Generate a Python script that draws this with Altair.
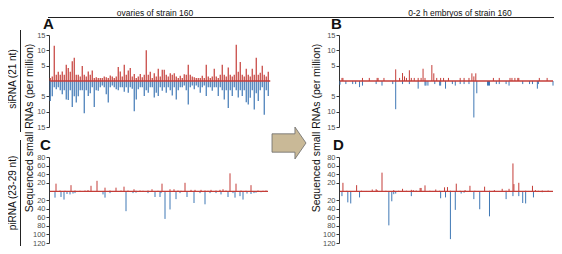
import altair as alt
import pandas as pd

RED = "#c43d38"
BLUE = "#3f78b5"
GREY = "#333333"

# ---------------- data ----------------
# Panel A: siRNA, ovaries (one value per bin, 110 bins)
A_red = [1, 1.5, 11.5, 2, 3, 2, 3.1, 2, 5.3, 4.2,
         3, 6.4, 7.6, 2, 2, 1.5, 4.9, 2, 1.5, 3.1,
         2, 3.4, 1, 1.2, 1, 1, 1, 1.5, 1.2, 1,
         1.8, 1.5, 1, 1.5, 4.6, 3.1, 1.5, 5.3, 2, 3.4,
         4.2, 1.5, 2.3, 1, 1.5, 2.3, 1.2, 2, 10, 2,
         3, 1, 2.5, 1.5, 4, 1.5, 3.7, 3.7, 2, 1.5,
         2.5, 2, 2.5, 1.5, 1, 1.7, 1, 2.2, 2, 5.3,
         2, 1.5, 1.2, 1, 1, 1, 1.7, 1, 5.3, 1.5,
         1, 1.5, 4, 1.5, 1, 2, 5.3, 2, 1.5, 4.4,
         2, 1.5, 2, 11.8, 3, 6.2, 2, 1.5, 4, 2,
         1.5, 4, 2, 7.6, 2, 2.7, 5, 2, 1.5, 3]
A_blue = [6.5, 5, 2, 2.7, 2, 3, 4.3, 3, 6, 6.2,
          3, 8.5, 5, 7, 5, 3, 3, 10.5, 3, 4.9,
          4, 2, 8.5, 3, 3.2, 2, 1.5, 2, 4.3, 7,
          2, 1.5, 2, 2.7, 3, 2, 2, 3.5, 2, 3.8,
          2, 2.5, 9.9, 6, 2.7, 2, 2, 4.9, 3, 3.8,
          2, 2, 5.4, 3.8, 4.9, 2, 3.2, 2, 3.8, 2,
          3, 4.7, 2, 6, 3, 2, 2, 1.5, 3, 7.7,
          2, 1.5, 2.7, 1.5, 2, 3.8, 2, 1.5, 4.9, 2,
          2, 3.2, 2, 2, 4.9, 2, 3, 6, 3, 8.8,
          3, 4.9, 2, 3, 5.4, 3, 4.9, 3, 6.9, 7.7,
          5.5, 3, 9.3, 4, 6.5, 3, 2, 11, 3, 4.9]

# Panel B: siRNA, 0-2 h embryos
B_red_pos = [2, 3, 23, 30, 38, 39, 45, 57, 61, 64, 66, 68, 71, 73, 76, 80, 83, 85, 87, 94,
             96, 99, 103, 106, 111, 123, 127, 132, 135, 137, 139, 157, 163, 174, 176, 179, 182, 183, 204, 212]
B_red_val = [1, 1, 1, 1, 1, 1, 1, 3.8, 1, 2.6, 1.5, 1, 3.5, 1, 1, 1, 1, 4, 1, 5.2,
             2.5, 1, 1, 1, 1, 1, 1, 1, 2.5, 1.5, 2.5, 1, 1, 1, 1, 1, 1, 1, 1, 1]
B_blue_pos = [0, 6, 13, 16, 20, 23, 37, 43, 54, 57, 64, 71, 80, 87, 88, 90, 97, 102, 103, 108,
              115, 118, 123, 127, 132, 137, 140, 151, 152, 153, 160, 163, 170, 173, 187, 194, 197, 202, 203, 218]
B_blue_val = [1.2, 1, 1, 1, 2, 1.5, 1, 1.5, 1, 9.2, 1, 1, 2.5, 1.5, 1.5, 1.5, 1, 1.5, 1.5, 2.5,
              1, 1.5, 1, 1, 1, 11.9, 4, 1.5, 1.5, 1.5, 1, 1, 1, 1.5, 1, 1, 1, 2.5, 1, 1.5]

# Panel C: piRNA, ovaries
C_red_pos = [6, 10, 15, 21, 25, 30, 35, 38, 41, 47, 55, 60, 66, 71, 74, 78, 84, 86, 90, 93,
             98, 102, 108, 112, 120, 124, 128, 131, 135, 141, 145, 151, 155, 158, 161, 166, 170, 173,
             176, 180, 186, 191, 196, 201, 208, 213, 216]
C_red_val = [18, 2, 1.5, 14.5, 2, 1.5, 2, 3, 13, 24.6, 8.7, 2, 8.7, 2, 11, 2, 5, 1.5, 2, 1.5,
             2, 5, 1.5, 18, 5, 5, 2, 1.5, 20, 3.6, 3.6, 3.6, 2, 1.5, 3.6, 2, 3.6, 5,
             2, 42, 18, 2, 1.5, 14.5, 2, 1.5, 2]
C_blue_pos = [5, 11, 14, 17, 20, 23, 25, 53, 55, 60, 76, 83, 86, 98, 105, 110, 111, 115, 120, 126,
              130, 137, 144, 150, 155, 160, 166, 171, 178, 183, 185, 190, 193, 197, 201, 204, 206, 211]
C_blue_val = [14.5, 13, 19, 6, 7, 5, 4, 7, 14.5, 4, 46, 4, 3, 4, 13, 13, 4, 64, 42, 18,
              4, 13, 27, 4, 30, 4, 4, 7, 13, 4, 14.5, 11, 19, 5, 6, 4, 3, 2]

# Panel D: piRNA, 0-2 h embryos
D_red_pos = [3, 7, 10, 17, 22, 27, 33, 37, 38, 43, 47, 50, 55, 60, 64, 68, 73, 75, 78, 82,
             83, 87, 92, 95, 98, 102, 107, 110, 113, 119, 123, 128, 133, 138, 142, 148, 153, 158,
             166, 170, 173, 177, 178, 183, 190, 193, 197, 200, 203, 207, 210, 213]
D_red_val = [20, 1.5, 1, 14.5, 1.5, 1, 4.4, 5, 3, 43.6, 1.5, 1, 3, 1.5, 6, 1.5, 3.6, 3, 2, 8,
             8, 14, 1.5, 1, 4.4, 1.5, 9.5, 10, 1.5, 18, 1.5, 3, 13, 1.5, 1, 11, 1.5, 3,
             6, 1.5, 6, 65, 17, 20, 1.5, 1, 13, 3, 1.5, 2, 1, 2]
D_blue_pos = [2, 8, 11, 20, 50, 53, 55, 57, 73, 103, 108, 113, 118, 124, 127, 137, 143, 153, 170, 177,
              183, 187, 190, 198, 207]
D_blue_val = [11, 25.5, 28, 14, 79, 23, 6.5, 5, 11, 16, 14, 111, 43, 5, 3, 18, 41.5, 58, 18, 11,
              11, 27, 28, 14, 2]

col_titles = ["ovaries of strain 160", "0-2 h embryos of strain 160"]
row_titles = ["siRNA (21 nt)", "piRNA (23-29 nt)"]
y_title = "Sequenced small RNAs (per million)"
letters = ["A", "B", "C", "D"]
si_ticks = [15, 10, 5, -5, -10, -15]
pi_ticks = [80, 60, 40, 20, -20, -40, -60, -80, -100, -120]

FONT = "Liberation Sans"


def panel(rpos, rval, bpos, bval, xdom, xrng, ydom, yrng, ticks, off, sw=1.0):
    xs = alt.Scale(domain=xdom, range=xrng)
    ys = alt.Scale(domain=ydom, range=yrng)
    ax = alt.Axis(orient="left", offset=off, values=ticks, labelExpr="abs(datum.value)",
                  grid=False, title=None, domainColor=GREY, tickColor=GREY, tickSize=3,
                  labelFontSize=7.5, labelColor="#505050", labelPadding=1, labelFont=FONT,
                  domainWidth=1, tickWidth=1, labelFlush=False, labelOverlap=False)
    red = pd.DataFrame({"pos": rpos, "val": rval, "zero": 0})
    blue = pd.DataFrame({"pos": bpos, "val": [-v for v in bval], "zero": 0})
    base = pd.DataFrame({"x0": [xdom[0]], "x1": [xdom[1]], "y": [0]})
    b = alt.Chart(blue).mark_rule(color=BLUE, strokeWidth=sw).encode(
        x=alt.X("pos:Q", scale=xs, axis=None),
        y=alt.Y("val:Q", scale=ys, axis=ax),
        y2="zero:Q")
    ln = alt.Chart(base).mark_rule(color=RED, strokeWidth=1.3).encode(
        x=alt.X("x0:Q", scale=xs, axis=None),
        x2="x1:Q",
        y=alt.Y("y:Q", scale=ys, axis=ax))
    r = alt.Chart(red).mark_rule(color=RED, strokeWidth=sw).encode(
        x=alt.X("pos:Q", scale=xs, axis=None),
        y=alt.Y("val:Q", scale=ys, axis=ax),
        y2="zero:Q")
    return alt.layer(b, ln, r)


pA = panel(list(range(len(A_red))), A_red, list(range(len(A_blue))), A_blue,
           [0, 110], [42.25, 262.25], [-15, 15], [119, 27], si_ticks, -41, sw=1.2)
pB = panel(B_red_pos, B_red_val, B_blue_pos, B_blue_val,
           [0, 218], [332, 545], [-15, 15], [119, 27], si_ticks, -331)
pC = panel(C_red_pos, C_red_val, C_blue_pos, C_blue_val,
           [0, 218], [42, 260], [-120, 80], [235, 149], pi_ticks, -41)
pD = panel(D_red_pos, D_red_val, D_blue_pos, D_blue_val,
           [0, 218], [332, 545], [-120, 80], [235, 149], pi_ticks, -331)

one = pd.DataFrame({"a": [0]})


def text(t, x, y, size, angle=0, weight="normal", align="center", baseline="alphabetic"):
    return alt.Chart(pd.DataFrame({"t": [t]})).mark_text(
        font=FONT, fontSize=size, angle=angle, fontWeight=weight, align=align,
        baseline=baseline, color="#111111").encode(
        x=alt.value(x), y=alt.value(y), text="t:N")


def rule(x, x2, y, y2):
    return alt.Chart(one).mark_rule(color="#222222", strokeWidth=1).encode(
        x=alt.value(x), x2=alt.value(x2), y=alt.value(y), y2=alt.value(y2))


deco = [
    text(col_titles[0], 147, 0.5, 8.5, baseline="top"),
    text(col_titles[1], 452, 0.5, 8.5, baseline="top"),
    rule(40, 548, 9.5, 9.5),
    text(row_titles[0], 8, 71, 10, angle=270),
    text(row_titles[1], 8, 185, 10, angle=270),
    rule(12.5, 12.5, 22, 124),
    rule(12.5, 12.5, 132, 238),
    text(y_title, 25, 120, 10.5, angle=270),
    text(y_title, 312, 120, 10.5, angle=270),
    text(letters[0], 35, 21, 15, weight="bold", align="left"),
    text(letters[1], 323, 21, 15, weight="bold", align="left"),
    text(letters[2], 32, 142, 15, weight="bold", align="left"),
    text(letters[3], 325, 142, 15, weight="bold", align="left"),
]

arrow_path = "M-1,-0.54 L0.35,-0.54 L0.35,-0.94 L1,0 L0.35,0.94 L0.35,0.54 L-1,0.54 Z"
arrow = alt.Chart(one).mark_point(
    shape=arrow_path, size=1156, filled=True, fill="#c9b997", stroke="#6b6b6b",
    strokeWidth=0.8, opacity=1).encode(x=alt.value(281), y=alt.value(135))

chart = alt.layer(pA, pB, pC, pD, arrow, *deco).resolve_scale(
    x="independent", y="independent").resolve_axis(
    x="independent", y="independent").properties(
    width=546, height=238, padding=0,
    autosize=alt.AutoSizeParams(type="none")).configure_view(strokeOpacity=0)

chart.save("out.html", embed_options={"renderer": "svg", "actions": False})
